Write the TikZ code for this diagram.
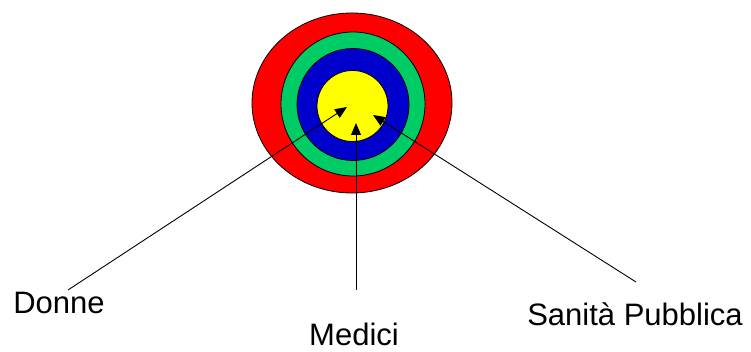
\documentclass[tikz,border=0pt]{standalone}
\usepackage{fontspec}
\setmainfont{Liberation Sans}
\usetikzlibrary{arrows.meta}
\definecolor{ringred}{RGB}{255,0,0}
\definecolor{ringgreen}{RGB}{0,204,102}
\definecolor{ringblue}{RGB}{0,0,204}
\definecolor{ringyellow}{RGB}{255,255,0}
\tikzset{
  ring/.style={draw=black,line width=0.8pt},
  lbl/.style={anchor=base,inner sep=0pt,font=\fontsize{31}{36}\selectfont},
  pointer/.style={->,line width=0.9pt}
}
\begin{document}
\begin{tikzpicture}[x=1pt,y=-1pt,>={Triangle[length=12pt,width=10pt]}]
\useasboundingbox (0,0) rectangle (751,352);
% bersaglio
\draw[ring,fill=ringred] (352,103) ellipse [x radius=100,y radius=90];
\draw[ring,fill=ringgreen] (353,104) circle [radius=72];
\draw[ring,fill=ringblue] (353,104.5) circle [radius=56];
\draw[ring,fill=ringyellow] (352.5,106) circle [radius=35.5];
% etichette
\node[lbl] (donne) at (59,313) {Donne};
\node[lbl] (medici) at (354,345) {Medici};
\node[lbl] (sanita) at (635,325) {Sanità Pubblica};
\coordinate (tipD) at (347,107);
\coordinate (tipM) at (356,123);
\coordinate (tipS) at (373,115);
\coordinate (tailD) at (68,290);
\coordinate (tailM) at (356,290);
\coordinate (tailS) at (636,282);
\draw[pointer] (tailD)--(tipD);
\draw[pointer] (tailM)--(tipM);
\draw[pointer] (tailS)--(tipS);
\end{tikzpicture}
\end{document}
